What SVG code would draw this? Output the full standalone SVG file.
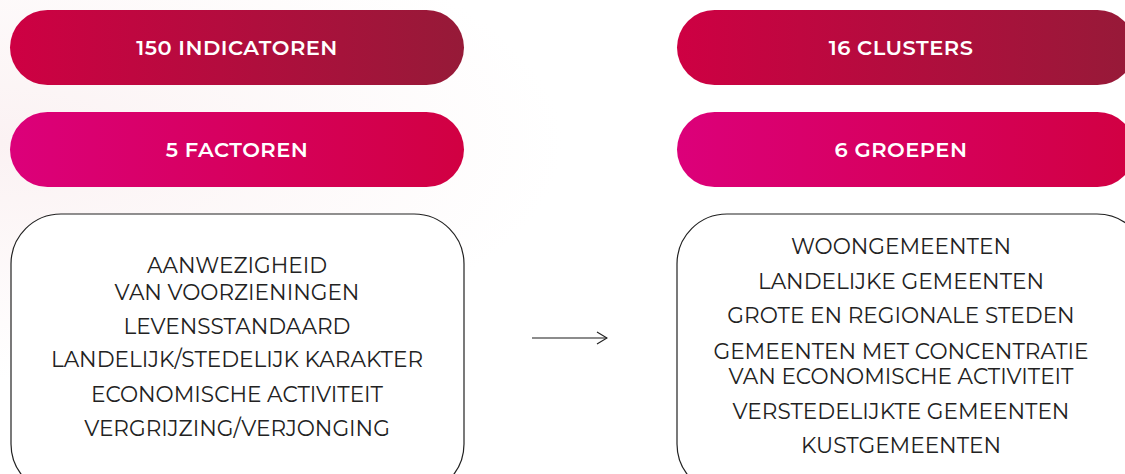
<svg xmlns="http://www.w3.org/2000/svg" width="1125" height="474" viewBox="0 0 1125 474">
<defs>
<linearGradient id="gTop" x1="0" y1="0" x2="1" y2="0">
<stop offset="0" stop-color="#CE0043"/>
<stop offset="1" stop-color="#961A38"/>
</linearGradient>
<linearGradient id="gMid" x1="0" y1="0" x2="1" y2="0">
<stop offset="0" stop-color="#DC007A"/>
<stop offset="1" stop-color="#D10042"/>
</linearGradient>
<radialGradient id="bg" cx="0" cy="0.3" r="0.5">
<stop offset="0" stop-color="#FBF2F3"/>
<stop offset="1" stop-color="#FFFFFF"/>
</radialGradient>
<marker id="arr" viewBox="0 0 12 14" refX="11" refY="7" markerWidth="12" markerHeight="14" markerUnits="userSpaceOnUse" orient="auto">
<path d="M1,1 L11,7 L1,13" fill="none" stroke="#222" stroke-width="1.2"/>
</marker>
<style>
.pill-t{font-family:"Montserrat","Open Sans","Liberation Sans",sans-serif;font-weight:600;font-size:21px;fill:#fff;text-anchor:middle;letter-spacing:0.5px}
.box{fill:#fff;stroke:#222;stroke-width:1.2}
.item{font-family:"Montserrat","Open Sans","Liberation Sans",sans-serif;font-size:21.6px;fill:#222;text-anchor:middle}
</style>
</defs>
<rect x="0" y="0" width="1125" height="474" fill="url(#bg)"/>

<g id="n-indicatoren">
<rect x="10" y="10" width="454" height="75" rx="37.5" fill="url(#gTop)"/>
<text class="pill-t" x="237" y="55">150 INDICATOREN</text>
</g>
<g id="n-factoren">
<rect x="10" y="112" width="454" height="75" rx="37.5" fill="url(#gMid)"/>
<text class="pill-t" x="237" y="157">5 FACTOREN</text>
</g>
<g id="n-clusters">
<rect x="677" y="10" width="458" height="75" rx="37.5" fill="url(#gTop)"/>
<text class="pill-t" x="901" y="55">16 CLUSTERS</text>
</g>
<g id="n-groepen">
<rect x="677" y="112" width="458" height="75" rx="37.5" fill="url(#gMid)"/>
<text class="pill-t" x="901" y="157">6 GROEPEN</text>
</g>

<g id="n-factorlist">
<rect class="box" x="11" y="214" width="453" height="280" rx="50"/>
<text class="item" x="237" y="273">AANWEZIGHEID</text>
<text class="item" x="237" y="300">VAN VOORZIENINGEN</text>
<text class="item" x="237" y="334">LEVENSSTANDAARD</text>
<text class="item" x="237" y="367">LANDELIJK/STEDELIJK KARAKTER</text>
<text class="item" x="237" y="402">ECONOMISCHE ACTIVITEIT</text>
<text class="item" x="237" y="436">VERGRIJZING/VERJONGING</text>
</g>

<g id="n-grouplist">
<rect class="box" x="677" y="214" width="470" height="280" rx="50"/>
<text class="item" x="901" y="254">WOONGEMEENTEN</text>
<text class="item" x="901" y="289">LANDELIJKE GEMEENTEN</text>
<text class="item" x="901" y="323">GROTE EN REGIONALE STEDEN</text>
<text class="item" x="901" y="359">GEMEENTEN MET CONCENTRATIE</text>
<text class="item" x="901" y="384">VAN ECONOMISCHE ACTIVITEIT</text>
<text class="item" x="901" y="419">VERSTEDELIJKTE GEMEENTEN</text>
<text class="item" x="901" y="453">KUSTGEMEENTEN</text>
</g>

<g id="connectors">
<line x1="532" y1="338" x2="607" y2="338" stroke="#666" stroke-width="1.3" marker-end="url(#arr)"/>
</g>
</svg>
